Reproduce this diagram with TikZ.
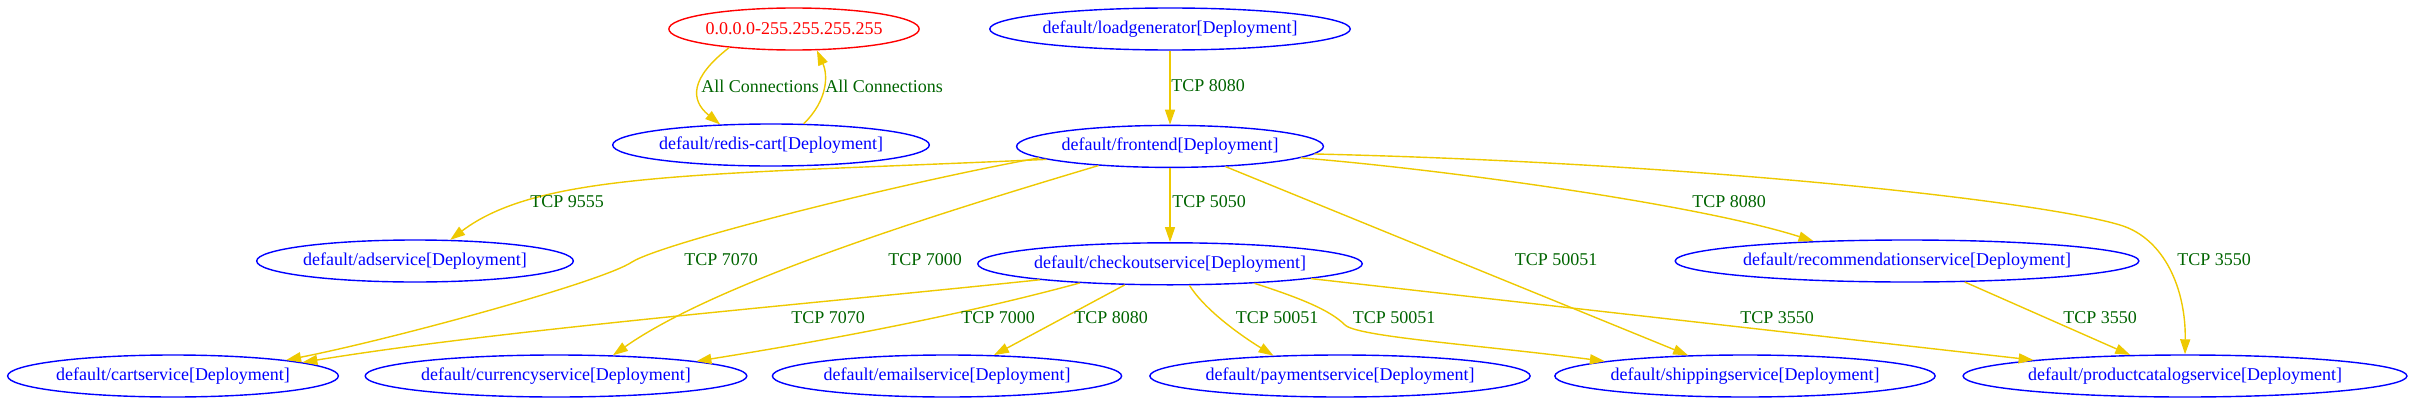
\documentclass[tikz,border=0pt]{standalone}
\usepackage{fontspec}
\setmainfont{Liberation Serif}
\usetikzlibrary{arrows.meta,positioning,shapes.geometric}
\definecolor{PodBlue}{HTML}{0000FF}
\definecolor{NetRed}{HTML}{FF0000}
\definecolor{EdgeGold}{HTML}{EEC900}
\definecolor{PortGreen}{HTML}{006400}

\begin{document}
\begin{tikzpicture}[
  x=0.5pt,y=-0.5pt,
  node distance=37pt,
  pod/.style={ellipse,draw=PodBlue,text=PodBlue,line width=0.7pt,minimum height=21pt,inner xsep=0pt,inner ysep=1pt,font=\fontsize{9}{10}\selectfont},
  net/.style={pod,draw=NetRed,text=NetRed},
  conn/.style={-{Triangle[length=7.5pt,width=5pt]},line width=0.7pt,color=EdgeGold},
  port/.style={text=PortGreen,inner sep=0pt,font=\fontsize{9}{10}\selectfont}
]
\useasboundingbox (0,0) rectangle (2413,407);
\node[net] (ipblock) at (794,29) {0.0.0.0-255.255.255.255};
\node[pod] (loadgen) at (1170,29) {default/loadgenerator[Deployment]};
\node[pod,below=of loadgen] (frontend) {default/frontend[Deployment]};
\node[pod] (rediscart) at (771,145) {default/redis-cart[Deployment]};
\node[pod,below=of frontend] (checkout) {default/checkoutservice[Deployment]};
\node[pod] (adservice) at (415,261) {default/adservice[Deployment]};
\node[pod] (recommendation) at (1907,261) {default/recommendationservice[Deployment]};
\node[pod] (cart) at (173,376) {default/cartservice[Deployment]};
\node[pod] (currency) at (556,376) {default/currencyservice[Deployment]};
\node[pod] (email) at (947,376) {default/emailservice[Deployment]};
\node[pod] (payment) at (1340,376) {default/paymentservice[Deployment]};
\node[pod] (shipping) at (1745,376) {default/shippingservice[Deployment]};
\node[pod] (productcatalog) at (2185,376) {default/productcatalogservice[Deployment]};
\draw[conn] (ipblock.196) .. controls (690,78) and (690,100) .. (rediscart.158) node[port] (allin) at (760,86) {All Connections};
\draw[conn] (rediscart.33) .. controls (828,100) and (828,75) .. (ipblock.-43) node[port] (allout) at (884,86) {All Connections};
\draw[conn] (loadgen) -- (frontend) node[port] (lg8080) at (1208,86) {TCP 8080};
\draw[conn] (frontend.186) .. controls (700,175) and (540,172) .. (adservice.31) node[port] (fe9555) at (567,202) {TCP 9555};
\draw[conn] (frontend.185) .. controls (900,183) and (662,243) .. (632,262) .. controls (602,282) and (393,339) .. (cart.8) node[port] (fe7070) at (721,260) {TCP 7070};
\draw[conn] (frontend.195) .. controls (950,210) and (720,280) .. (currency.20) node[port] (fe7000) at (925,260) {TCP 7000};
\draw[conn] (frontend) -- (checkout) node[port] (fe5050) at (1209,202) {TCP 5050};
\draw[conn] (frontend.-20) -- (shipping.160) node[port] (fe50051) at (1556,260) {TCP 50051};
\draw[conn] (frontend.-5) .. controls (1450,170) and (1700,205) .. (recommendation.168) node[port] (fe8080) at (1729,202) {TCP 8080};
\draw[conn] (frontend.-3) .. controls (1700,163) and (2040,201) .. (2120,225) .. controls (2165,238.5) and (2186,290) .. (productcatalog.north) node[port] (fe3550) at (2214,260) {TCP 3550};
\draw[conn] (checkout.187) .. controls (800,305) and (500,330) .. (cart.6) node[port] (co7070) at (828,318) {TCP 7070};
\draw[conn] (checkout.192) .. controls (980,310) and (860,335) .. (currency.6) node[port] (co7000) at (998,318) {TCP 7000};
\draw[conn] (checkout.205) -- (email.24) node[port] (co8080) at (1111,318) {TCP 8080};
\draw[conn] (checkout.-48) .. controls (1205,310) and (1240,335) .. (payment.163) node[port] (copay) at (1277,318) {TCP 50051};
\draw[conn] (checkout.-13) .. controls (1300,298) and (1330,310) .. (1345,325) .. controls (1358,337) and (1480,345) .. (shipping.174) node[port] (coship) at (1394,318) {TCP 50051};
\draw[conn] (checkout.-6) -- (productcatalog.174) node[port] (co3550) at (1777,318) {TCP 3550};
\draw[conn] (recommendation.-20) -- (productcatalog.159) node[port] (rc3550) at (2100,318) {TCP 3550};
\end{tikzpicture}
\end{document}
